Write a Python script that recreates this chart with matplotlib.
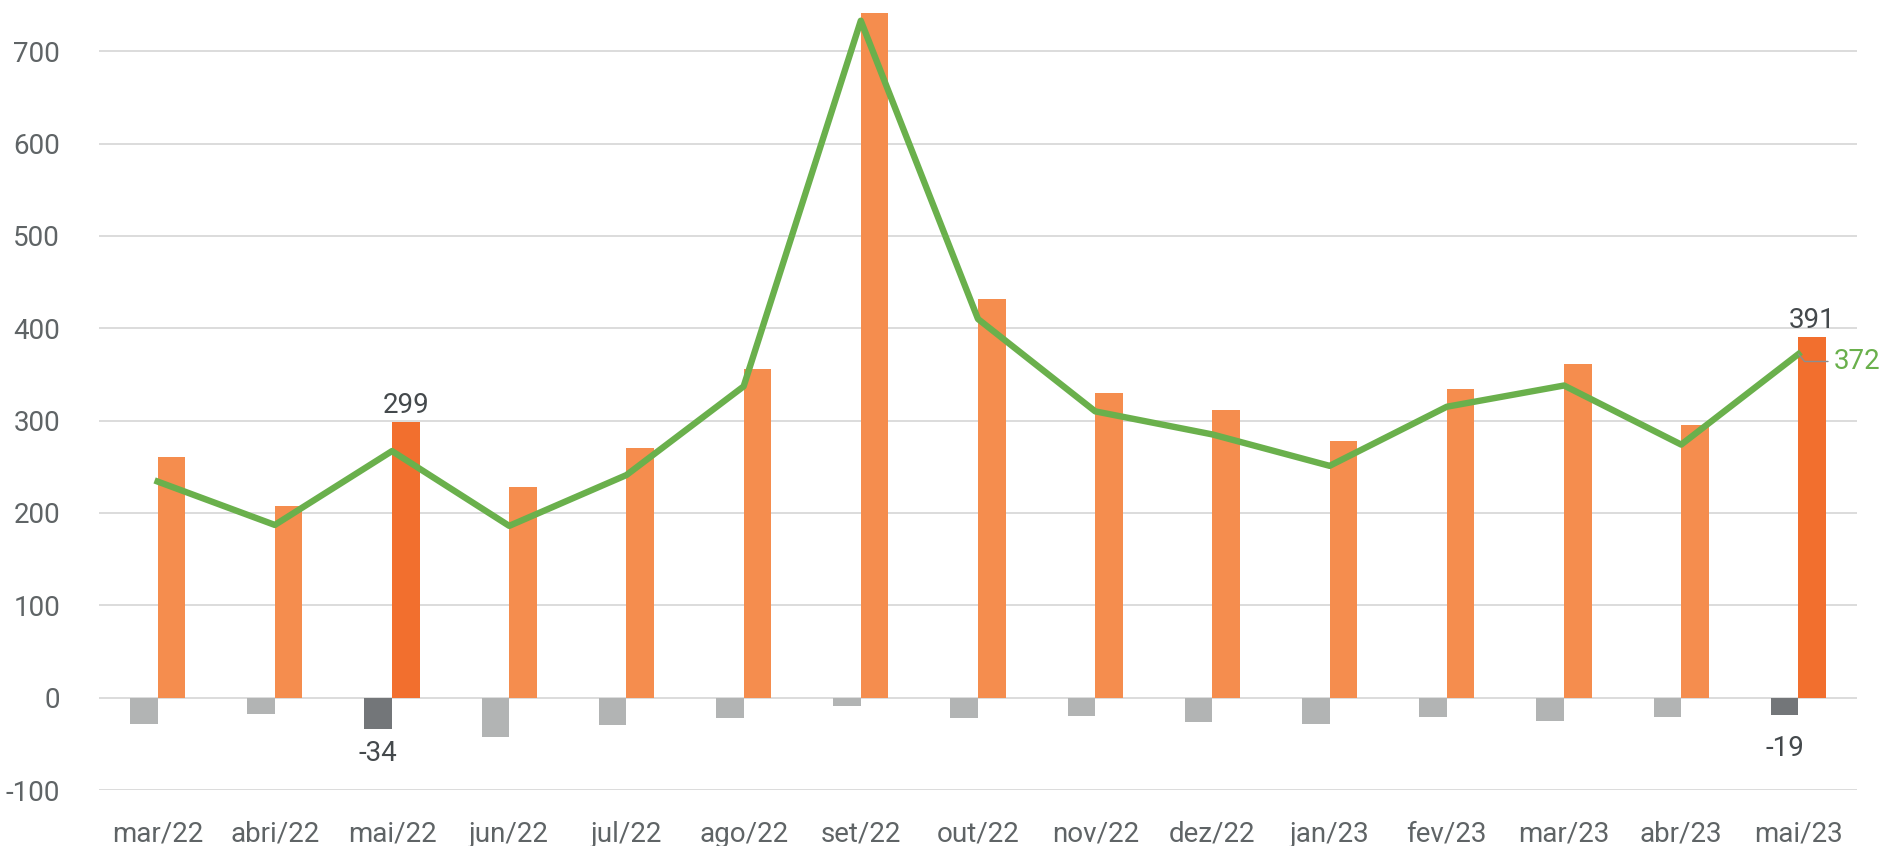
import matplotlib
matplotlib.use("Agg")
import matplotlib.pyplot as plt
import numpy as np

plt.rcParams["font.family"] = ["Roboto", "DejaVu Sans"]
plt.rcParams["axes.unicode_minus"] = False

months = ["mar/22", "abri/22", "mai/22", "jun/22", "jul/22", "ago/22", "set/22",
          "out/22", "nov/22", "dez/22", "jan/23", "fev/23", "mar/23", "abr/23", "mai/23"]
positive = [261, 207, 299, 228, 270, 356, 741, 432, 330, 311, 278, 334, 361, 295, 391]
negative = [-29, -18, -34, -43, -30, -22, -9, -22, -20, -26, -28, -21, -25, -21, -19]
trend = [234, 187, 267, 186, 241, 337, 733, 410, 310, 285, 251, 315, 338, 274, 372]
highlight = [2, 14]   # months with darker bars and value labels

ORANGE = "#F58D4E"
ORANGE_DK = "#F26F2E"
GREY = "#B2B4B4"
GREY_DK = "#737679"
GREEN = "#6AB04C"
TEXT = "#5F6466"
LABEL = "#44494C"

fig = plt.figure(figsize=(18.85, 8.46), dpi=100)
ax = fig.add_axes([99 / 1885, 56 / 846, 1758 / 1885, 785 / 846])

x = np.arange(len(months))
w = 0.235
pos_cols = [ORANGE_DK if i in highlight else ORANGE for i in x]
neg_cols = [GREY_DK if i in highlight else GREY for i in x]
ax.bar(x - w / 2, negative, w, color=neg_cols, zorder=2)
ax.bar(x + w / 2, positive, w, color=pos_cols, zorder=2)
ax.plot(x, trend, color=GREEN, lw=4.6, zorder=3)

for i in highlight:
    ax.text(x[i] + w / 2, positive[i] + 3, f"{positive[i]}", ha="center", va="bottom",
            fontsize=20, color=LABEL)
    # label sits a bit further down for the shorter bar
    ax.text(x[i] - w / 2, min(negative[i] - 12, -40), f"{negative[i]}", ha="center", va="top",
            fontsize=20, color=LABEL)

ax.annotate(f"{trend[-1]}", xy=(x[-1], trend[-1]), xytext=(x[-1] + 0.3, trend[-1] - 8),
            ha="left", va="center", fontsize=20, color=GREEN,
            arrowprops=dict(arrowstyle="-", color="#8A8E90", lw=1,
                            connectionstyle="angle,angleA=0,angleB=-50", shrinkA=2, shrinkB=0))

ax.set_xlim(-0.5, len(months) - 0.5)
ax.set_ylim(-100, 750)
ax.set_yticks(range(-100, 701, 100))
ax.set_xticks(x)
ax.set_xticklabels(months)
ax.tick_params(length=0, labelsize=20, colors=TEXT)
ax.tick_params(axis="y", pad=28)
ax.tick_params(axis="x", pad=22)
ax.grid(axis="y", color="#D9D9D9", lw=1.3, zorder=0)
ax.set_axisbelow(True)
for s in ax.spines.values():
    s.set_visible(False)

fig.savefig("out.png", dpi=100)
